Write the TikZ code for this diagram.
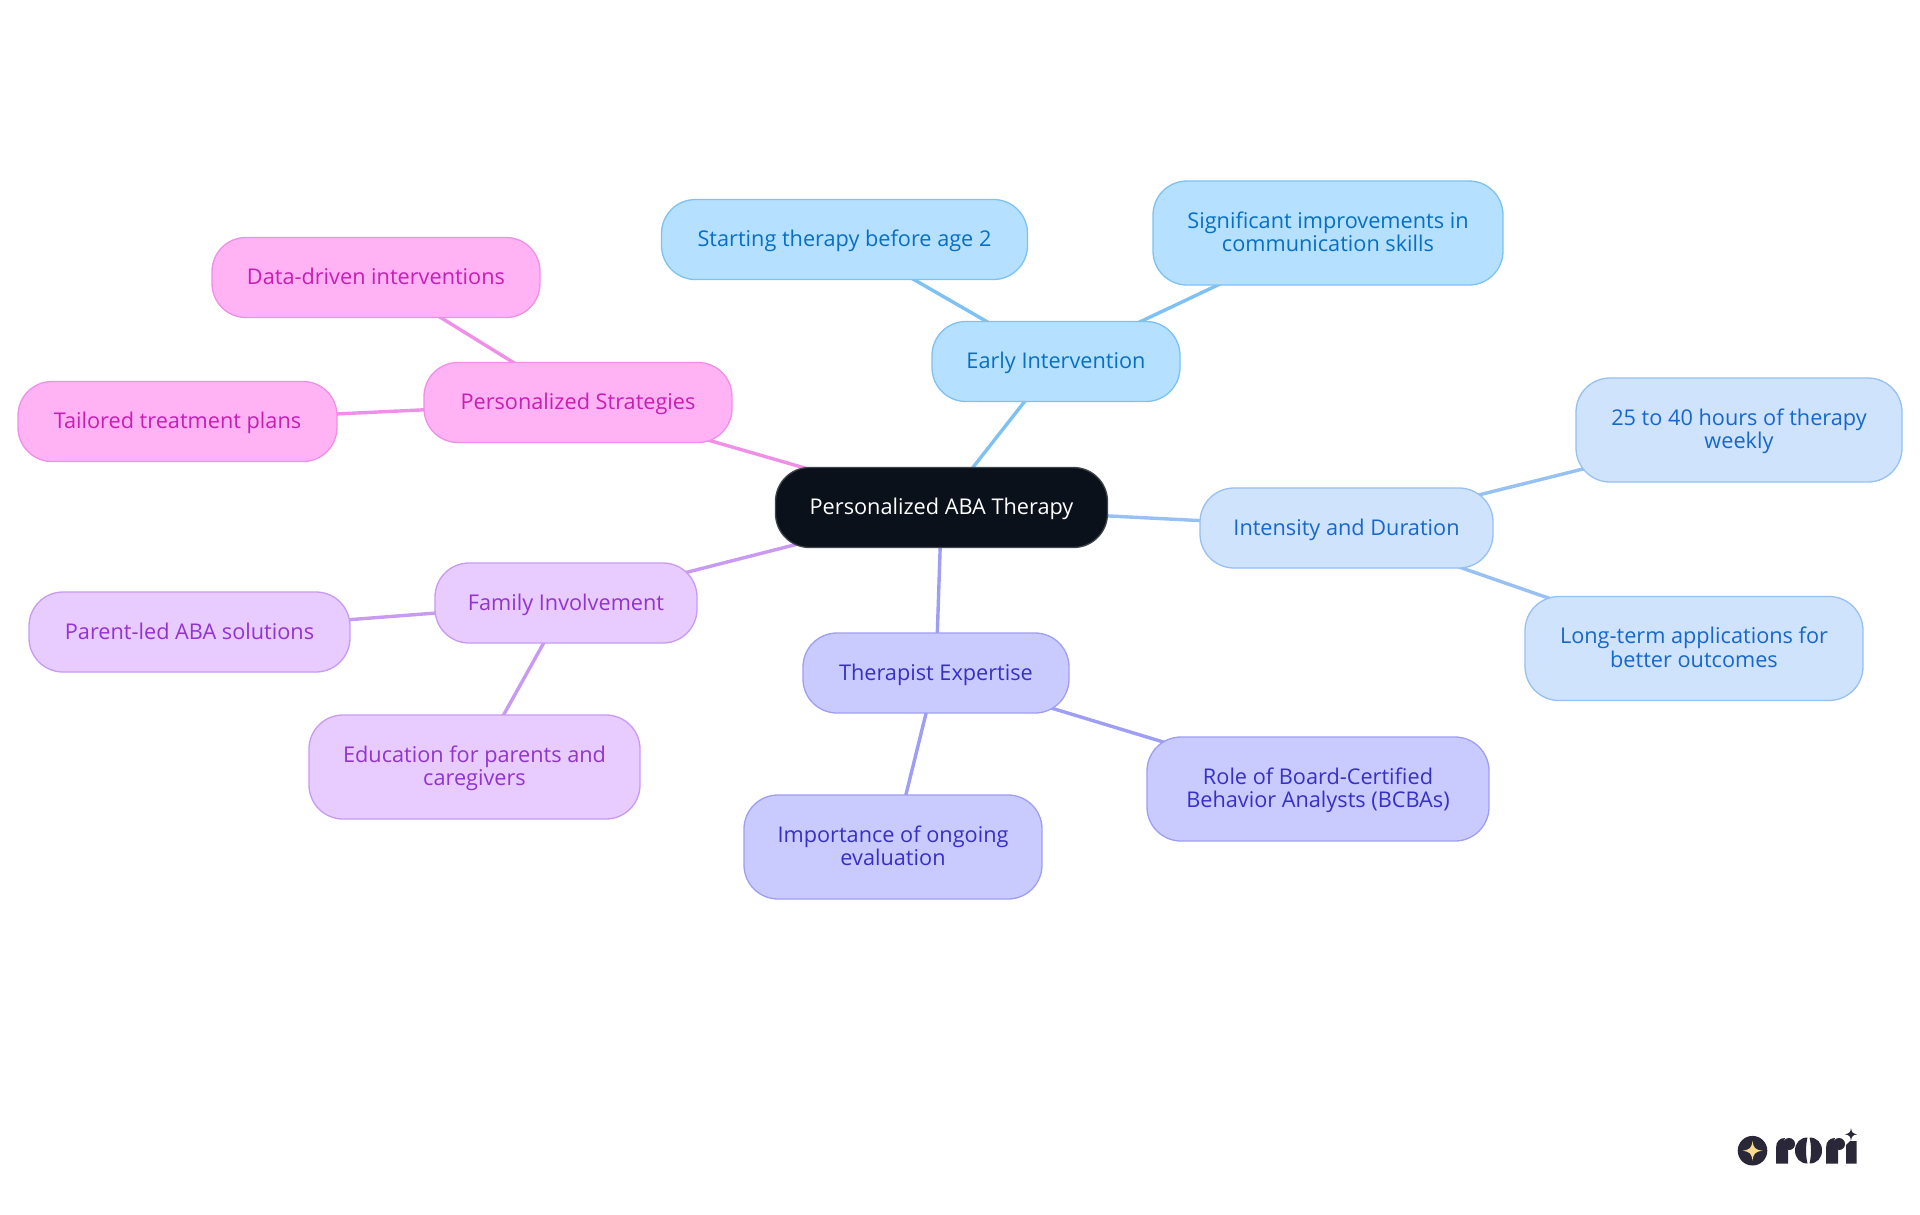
\documentclass[tikz,border=0pt]{standalone}
\usepackage{fontspec}
\setmainfont{Open Sans}
\usetikzlibrary{backgrounds}
\definecolor{bF}{HTML}{B5E0FF}\definecolor{bS}{HTML}{7DC2F3}\definecolor{bT}{HTML}{0870C4}
\definecolor{iF}{HTML}{CFE3FC}\definecolor{iS}{HTML}{96C1F2}\definecolor{iT}{HTML}{1668CC}
\definecolor{tF}{HTML}{C9CBFF}\definecolor{tS}{HTML}{9E9EF5}\definecolor{tT}{HTML}{3730C8}
\definecolor{fF}{HTML}{E8CBFF}\definecolor{fS}{HTML}{C99AF2}\definecolor{fT}{HTML}{9333D0}
\definecolor{pF}{HTML}{FFB3F5}\definecolor{pS}{HTML}{F08FE8}\definecolor{pT}{HTML}{C81EB4}
\definecolor{rootF}{HTML}{0B111B}\definecolor{rootS}{HTML}{3F444B}
\definecolor{logoD}{HTML}{2A2838}\definecolor{logoY}{HTML}{FBD98A}
\tikzset{
 x=1pt,y=-1pt,
 mm/.style={rounded corners=34pt,line width=1.3pt,align=center,inner sep=0pt,
   font=\fontsize{21.7}{23.4}\selectfont,
   execute at begin node={\rule{0pt}{20pt}},
   execute at end node={\rule[-6pt]{0pt}{6pt}}},
 twoline/.style={execute at begin node={\rule{0pt}{43pt}}},
 earlyn/.style={mm,draw=bS,fill=bF,text=bT},
 intn/.style={mm,draw=iS,fill=iF,text=iT},
 thern/.style={mm,draw=tS,fill=tF,text=tT},
 famn/.style={mm,draw=fS,fill=fF,text=fT},
 persn/.style={mm,draw=pS,fill=pF,text=pT},
 rootn/.style={mm,draw=rootS,fill=rootF,text=white},
 lnk/.style={line width=3.4pt},
 box/.style args={#1/#2}{minimum width=#1pt,minimum height=#2pt},
}
\begin{document}
\begin{tikzpicture}
\useasboundingbox (0,0) rectangle (1920,1215);
\node[rootn,box=332/80] (root) at (941.5,507.5) {Personalized ABA Therapy};
\node[earlyn,box=248/80] (early) at (1056,361.5) {Early Intervention};
\node[earlyn,box=366/80] (start) at (844.5,239.5) {Starting therapy before age 2};
\node[earlyn,twoline,box=350/104] (signif) at (1328,233) {Significant improvements in\\communication skills};
\node[intn,box=293/80] (inten) at (1346.5,528) {Intensity and Duration};
\node[intn,twoline,box=326/104] (hours) at (1739,430) {25 to 40 hours of therapy\\weekly};
\node[intn,twoline,box=338/104] (longt) at (1694,648.5) {Long-term applications for\\better outcomes};
\node[thern,box=266/80] (ther) at (936,673) {Therapist Expertise};
\node[thern,twoline,box=342/104] (role) at (1318,789) {Role of Board-Certified\\Behavior Analysts (BCBAs)};
\node[thern,twoline,box=298/104] (impo) at (893,847) {Importance of ongoing\\evaluation};
\node[famn,box=262/80] (fam) at (566,603) {Family Involvement};
\node[famn,box=321/80] (parent) at (189.5,632) {Parent-led ABA solutions};
\node[famn,twoline,box=331/104] (edu) at (474.5,767) {Education for parents and\\caregivers};
\node[persn,box=308/80] (pers) at (578,402.5) {Personalized Strategies};
\node[persn,box=328/80] (data) at (376,277.5) {Data-driven interventions};
\node[persn,box=319/80] (tail) at (177.5,421.5) {Tailored treatment plans};
\begin{scope}[on background layer]
\fill[white] (0,0) rectangle (1920,1215);
\draw[lnk,bS] (root.center)--(early.center);
\draw[lnk,bS] (early.center)--(start.center);
\draw[lnk,bS] (early.center)--(signif.center);
\draw[lnk,iS] (root.center)--(inten.center);
\draw[lnk,iS] (inten.center)--(hours.center);
\draw[lnk,iS] (inten.center)--(longt.center);
\draw[lnk,tS] (root.center)--(ther.center);
\draw[lnk,tS] (ther.center)--(role.center);
\draw[lnk,tS] (ther.center)--(impo.center);
\draw[lnk,fS] (root.center)--(fam.center);
\draw[lnk,fS] (fam.center)--(parent.center);
\draw[lnk,fS] (fam.center)--(edu.center);
\draw[lnk,pS] (root.center)--(pers.center);
\draw[lnk,pS] (pers.center)--(data.center);
\draw[lnk,pS] (pers.center)--(tail.center);
\end{scope}
% logo
\fill[logoD] (1752.5,1150.7) circle (14.8);
\fill[logoY] (1752.5,1141) .. controls (1753.5,1148) and (1755,1149.7) .. (1762.5,1150.7)
  .. controls (1755,1151.7) and (1753.5,1153.5) .. (1752.5,1160.5)
  .. controls (1751.5,1153.5) and (1750,1151.7) .. (1742.5,1150.7)
  .. controls (1750,1149.7) and (1751.5,1148) .. (1752.5,1141) -- cycle;
% r
\fill[logoD] (1776,1163.5) -- (1776,1148) .. controls (1776,1141) and (1780,1138) .. (1785,1138)
  .. controls (1782,1143) and (1785,1149) .. (1788,1150) .. controls (1788,1155) and (1788,1160) .. (1788,1163.5) -- cycle;
\fill[logoD] (1789,1144) circle (6);
% o
\fill[logoD] (1807.5,1137.5) .. controls (1800,1137.5) and (1795,1143) .. (1795,1150.5)
  .. controls (1795,1158) and (1800,1163.5) .. (1807.5,1163.5)
  .. controls (1805.5,1155) and (1805.5,1146) .. (1807.5,1137.5) -- cycle;
\fill[logoD] (1809.5,1137.5) .. controls (1817,1137.5) and (1822,1143) .. (1822,1150.5)
  .. controls (1822,1158) and (1817,1163.5) .. (1809.5,1163.5)
  .. controls (1811.5,1155) and (1811.5,1146) .. (1809.5,1137.5) -- cycle;
% r
\fill[logoD] (1826,1163.5) -- (1826,1148) .. controls (1826,1141) and (1830,1138) .. (1835,1138)
  .. controls (1832,1143) and (1835,1149) .. (1838,1150) .. controls (1838,1155) and (1838,1160) .. (1838,1163.5) -- cycle;
\fill[logoD] (1839,1144) circle (6);
% i
\fill[logoD] (1846,1163.5) -- (1846,1145) -- (1850,1141) -- (1856.7,1141) -- (1856.7,1163.5) -- cycle;
\fill[logoD] (1851,1128) .. controls (1851.5,1132) and (1852.5,1133.5) .. (1857,1134.3)
  .. controls (1852.5,1135) and (1851.5,1136.5) .. (1851,1141)
  .. controls (1850.5,1136.5) and (1849.5,1135) .. (1845,1134.3)
  .. controls (1849.5,1133.5) and (1850.5,1132) .. (1851,1128) -- cycle;
\end{tikzpicture}
\end{document}
